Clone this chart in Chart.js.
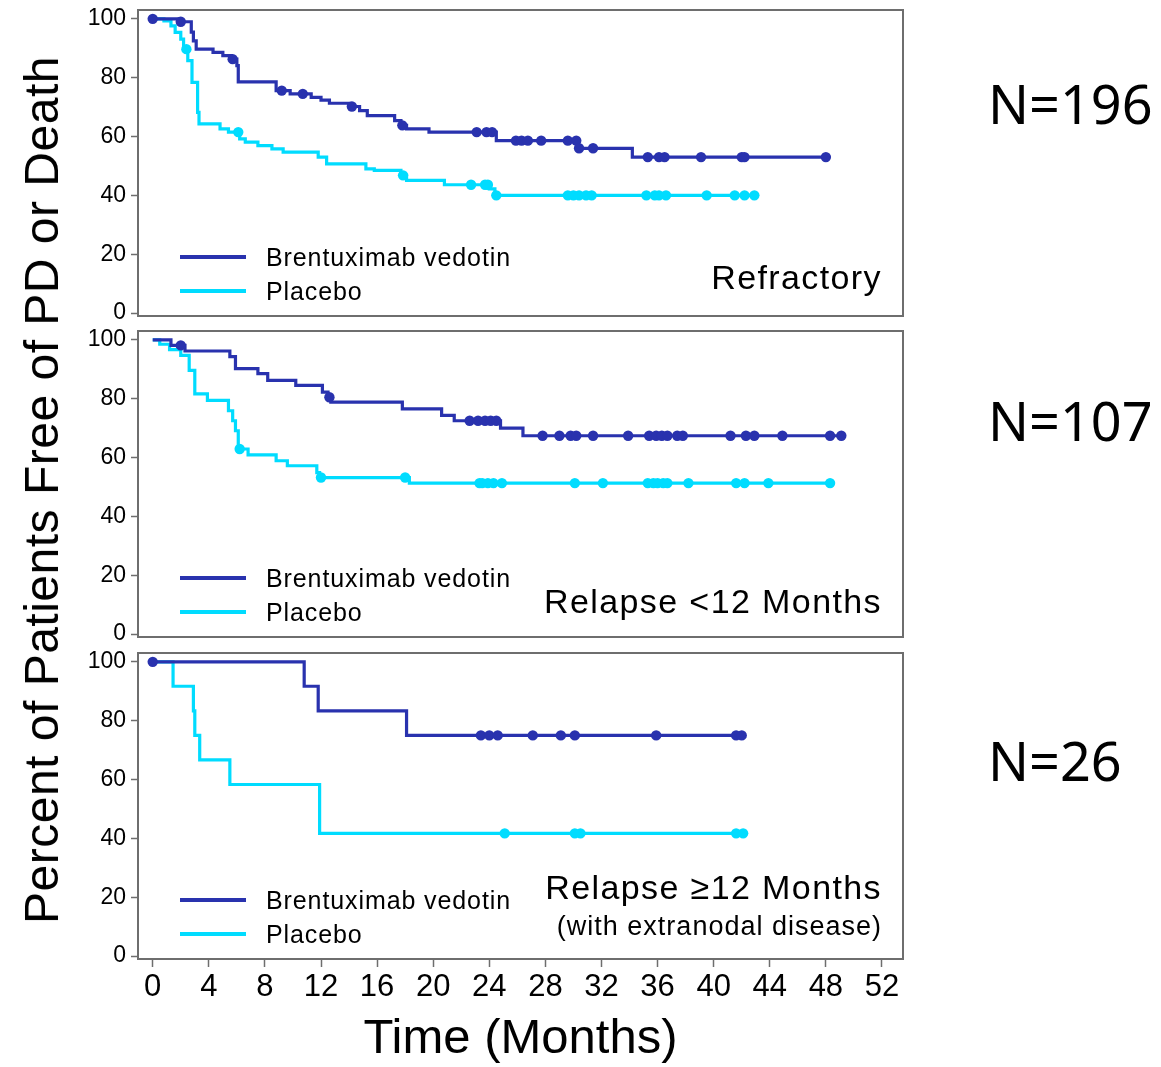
<!DOCTYPE html>
<html><head><meta charset="utf-8">
<script src="https://cdn.jsdelivr.net/npm/chart.js@4.4.1/dist/chart.umd.min.js"></script>
<style>
html,body{margin:0;padding:0;background:#fff;}
body{width:1161px;height:1067px;position:relative;overflow:hidden;font-family:"Liberation Sans",Arial,sans-serif;color:#000;}
canvas{position:absolute;left:0;}
.t{position:absolute;white-space:nowrap;line-height:1;}
.sw{position:absolute;height:4px;width:66px;}
</style></head><body>
<canvas id="c0" width="910" height="326" style="top:0px"></canvas>
<canvas id="c1" width="910" height="326" style="top:321px"></canvas>
<canvas id="c2" width="910" height="424" style="top:643px"></canvas>
<div id="ov"></div>
<script>
// ---------- data ----------
const xTickValues = [0, 4, 8, 12, 16, 20, 24, 28, 32, 36, 40, 44, 48, 52];
const yTickValues = [0, 20, 40, 60, 80, 100];
const seriesNames = ['Brentuximab vedotin', 'Placebo'];
const panelTitles = ['Refractory', 'Relapse <12 Months', 'Relapse \u226512 Months'];
const panelSubtitles = ['', '', '(with extranodal disease)'];
const panelN = ['N=196', 'N=107', 'N=26'];
const xAxisTitle = 'Time (Months)';
const yAxisTitle = 'Percent of Patients Free of PD or Death';

// Refractory
const refBvTime = [0, 1.8, 2.75, 2.9, 3.1, 4.3, 5.0, 5.6, 6.0, 6.1, 8.8, 9.8, 11.3, 12.0, 12.6, 14.0, 14.75, 15.3, 17.25, 17.7, 18.1, 19.7, 24.5, 30.3, 34.2];
const refBvSurv = [100, 99.0, 95.5, 92.5, 89.7, 88.6, 87.5, 86.3, 84.1, 78.6, 75.6, 74.5, 73.3, 72.4, 71.3, 70.2, 68.8, 67.1, 65.4, 63.8, 62.6, 61.5, 58.6, 56.0, 53.0];
const refBvCens = [0, 2.0, 5.7, 9.2, 10.7, 14.2, 17.8, 23.1, 23.8, 24.2, 25.9, 26.3, 26.75, 27.7, 29.6, 30.2, 30.4, 31.4, 35.3, 36.1, 36.5, 39.1, 42.0, 42.2, 48.0];
const refPbTime = [0, 0.8, 1.3, 1.6, 2.0, 2.2, 2.5, 2.8, 3.2, 3.3, 4.8, 5.4, 6.2, 6.6, 7.5, 8.5, 9.3, 11.8, 12.4, 15.2, 15.8, 17.7, 18.1, 20.8, 24.0, 24.4];
const refPbSurv = [100, 99.3, 97.6, 95.4, 93.1, 89.7, 85.8, 78.4, 68.2, 64.3, 62.6, 61.5, 59.2, 58.1, 56.9, 55.8, 54.7, 53.0, 50.7, 49.0, 48.5, 46.8, 45.1, 43.6, 42.2, 40.0];
const refPbCens = [2.4, 6.1, 17.85, 22.7, 23.7, 23.9, 24.5, 29.6, 30.0, 30.4, 30.9, 31.3, 35.2, 35.8, 36.1, 36.6, 39.5, 41.5, 42.2, 42.9];

// Relapse <12 months
const lt12BvTime = [0, 1.3, 2.3, 5.5, 5.9, 7.5, 8.2, 10.2, 12.1, 12.5, 12.7, 17.8, 20.6, 21.5, 24.8, 26.4];
const lt12BvSurv = [100, 98.1, 96.2, 94.3, 90.2, 88.5, 86.2, 84.5, 82.2, 80.5, 78.8, 76.5, 74.3, 72.5, 70.0, 67.4];
const lt12BvCens = [2.0, 12.6, 22.6, 23.2, 23.7, 24.1, 24.5, 27.8, 29.0, 29.8, 30.2, 31.4, 33.9, 35.4, 35.9, 36.3, 36.7, 37.4, 37.8, 41.2, 42.3, 42.9, 44.9, 48.3, 49.1];
const lt12PbTime = [0, 0.5, 1.2, 2.0, 2.6, 3.0, 3.9, 5.4, 5.7, 5.9, 6.1, 6.8, 8.8, 9.6, 11.7, 11.9, 18.3];
const lt12PbSurv = [100, 98.5, 96.7, 94.7, 89.6, 81.6, 79.4, 75.9, 72.5, 69.1, 62.9, 60.9, 58.9, 57.2, 54.9, 53.2, 51.3];
const lt12PbCens = [6.2, 12.0, 18.0, 23.3, 23.5, 23.9, 24.3, 24.9, 30.1, 32.1, 35.3, 35.7, 36.0, 36.4, 36.7, 38.2, 41.6, 42.2, 43.9, 48.3];

// Relapse >=12 months (extranodal)
const ge12BvTime = [0, 10.8, 11.8, 18.1];
const ge12BvSurv = [100, 91.7, 83.3, 75.0];
const ge12BvCens = [0, 23.4, 24.0, 24.6, 27.1, 29.1, 30.1, 35.9, 41.6, 42.0];
const ge12PbTime = [0, 1.45, 2.9, 3.0, 3.35, 5.5, 11.9];
const ge12PbSurv = [100, 91.7, 83.3, 75.0, 66.7, 58.3, 41.7];
const ge12PbCens = [25.1, 30.1, 30.5, 41.6, 42.1];

// ---------- styling ----------
const BLUE = '#2932ae';
const CYAN = '#00dcff';
const AXIS = '#6e6e6e';
const FAM = '"Liberation Sans", Arial, sans-serif';
const NARROW = '"Liberation Sans Narrow", "Arial Narrow", "Liberation Sans", sans-serif';
const BOX_TOPS = [10, 331, 653];

function stepPoints(t, s, c) {
  const pts = t.map((x, i) => ({x: x, y: s[i]}));
  const end = Math.max(t[t.length - 1], ...c);
  pts.push({x: end, y: s[s.length - 1]});
  return pts;
}
function censorPoints(t, s, c) {
  return c.map(x => {
    let v = s[0];
    for (let i = 0; i < t.length; i++) if (t[i] <= x) v = s[i];
    return {x: x, y: v};
  });
}

const panels = [
  {bv: [refBvTime, refBvSurv, refBvCens], pb: [refPbTime, refPbSurv, refPbCens]},
  {bv: [lt12BvTime, lt12BvSurv, lt12BvCens], pb: [lt12PbTime, lt12PbSurv, lt12PbCens]},
  {bv: [ge12BvTime, ge12BvSurv, ge12BvCens], pb: [ge12PbTime, ge12PbSurv, ge12PbCens]}
];

const boxPlugin = {
  id: 'box',
  afterDraw(chart) {
    const a = chart.chartArea, ctx = chart.ctx;
    ctx.save();
    ctx.strokeStyle = AXIS;
    ctx.lineWidth = 2;
    ctx.strokeRect(a.left, a.top, a.right - a.left, a.bottom - a.top);
    ctx.restore();
  }
};

panels.forEach((p, i) => {
  const showX = i === 2;
  const ds = (label, arr, color) => [
    {label: label + ' (censored)', data: censorPoints(arr[0], arr[1], arr[2]), showLine: false,
     pointRadius: 5.2, pointHoverRadius: 5.2, pointBackgroundColor: color, pointBorderWidth: 0, borderColor: color, backgroundColor: color},
    {label: label, data: stepPoints(arr[0], arr[1], arr[2]), stepped: 'before', borderColor: color,
     borderWidth: 3.2, pointRadius: 0, fill: false, tension: 0}
  ];
  new Chart(document.getElementById('c' + i), {
    type: 'line',
    data: {datasets: [...ds(seriesNames[0], p.bv, BLUE), ...ds(seriesNames[1], p.pb, CYAN)]},
    options: {
      responsive: false, animation: false, devicePixelRatio: 1,
      layout: {padding: {left: 0, right: 7, top: 10, bottom: showX ? 0 : 10}},
      plugins: {legend: {display: false}, tooltip: {enabled: false}},
      scales: {
        x: {
          type: 'linear', min: -1.05, max: 53.5, display: showX,
          afterBuildTicks: s => { s.ticks = xTickValues.map(v => ({value: v})); },
          afterFit: s => { if (showX) s.height = 108; s.paddingLeft = 0; s.paddingRight = 0; },
          grid: {drawOnChartArea: false, drawTicks: true, tickLength: 8, tickColor: AXIS, tickWidth: 1.5},
          border: {display: false},
          ticks: {font: {family: NARROW, size: 31}, color: '#000', padding: 2, maxRotation: 0, autoSkip: false},
          title: {display: showX, text: xAxisTitle, color: '#000', font: {family: FAM, size: 49, lineHeight: 1}, padding: {top: 0, bottom: 3}}
        },
        y: {
          min: -1, max: 103,
          afterBuildTicks: s => { s.ticks = yTickValues.map(v => ({value: v})); },
          afterFit: s => { s.width = 138; s.paddingTop = 0; s.paddingBottom = 0; },
          grid: {drawOnChartArea: false, drawTicks: true, tickLength: 7, tickColor: AXIS, tickWidth: 1.5},
          border: {display: false},
          ticks: {font: {family: FAM, size: 23}, color: '#000', padding: 5}
        }
      }
    },
    plugins: [boxPlugin]
  });
});

// ---------- text overlays ----------
const ov = document.getElementById('ov');
function addText(txt, css) {
  const d = document.createElement('div');
  d.className = 't';
  d.textContent = txt;
  Object.assign(d.style, css);
  ov.appendChild(d);
  return d;
}
BOX_TOPS.forEach((top, i) => {
  [[BLUE, seriesNames[0], 247], [CYAN, seriesNames[1], 281]].forEach(([col, name, off]) => {
    const sw = document.createElement('div');
    sw.className = 'sw';
    sw.style.left = '180px'; sw.style.top = (top + off - 2) + 'px'; sw.style.background = col;
    ov.appendChild(sw);
    addText(name, {left: '266px', top: (top + off) + 'px', transform: 'translateY(-50%)', fontSize: '25px', letterSpacing: '0.9px'});
  });
  const titleOff = panelSubtitles[i] ? 234 : (i === 0 ? 267 : 270);
  addText(panelTitles[i], {right: (1161 - 882) + 'px', top: (top + titleOff) + 'px', transform: 'translateY(-50%)', fontSize: '34px', letterSpacing: '1.4px'});
  if (panelSubtitles[i]) addText(panelSubtitles[i], {right: (1161 - 882) + 'px', top: (top + 273) + 'px', transform: 'translateY(-50%)', fontSize: '27px', letterSpacing: '1px'});
});
[103, 420, 760].forEach((y, i) => addText(panelN[i], {left: '988px', top: y + 'px', transform: 'translateY(-50%)', fontSize: '54px', fontFamily: '"Noto Sans", sans-serif'}));
addText(yAxisTitle, {left: '42px', top: '490px', transform: 'translate(-50%,-50%) rotate(-90deg)', fontSize: '48px', letterSpacing: '0.5px'});
</script>
</body></html>
